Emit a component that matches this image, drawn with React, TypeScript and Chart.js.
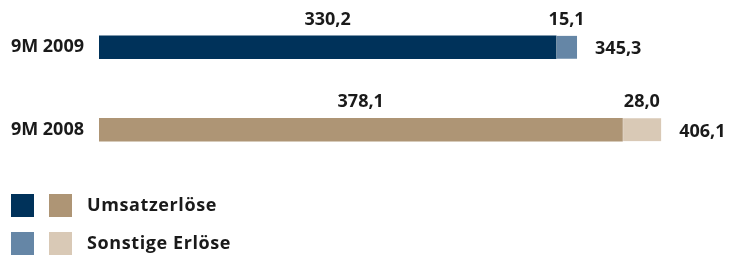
import React, { useEffect, useRef } from "react";
import { Chart, registerables } from "chart.js";

Chart.register(...registerables);

const categories = ["9M 2009", "9M 2008"];
const umsatzerloese = [330.2, 378.1];
const sonstigeErloese = [15.1, 28.0];
const seriesNames = ["Umsatzerlöse", "Sonstige Erlöse"];
const umsatzColors = ["#00325a", "#ae9575"];
const sonstigeColors = ["#6586a6", "#d9c9b6"];

const FONT = '"Open Sans", "DejaVu Sans", sans-serif';
const TEXT = "#1a1a1a";

const fmt = (v: number) => v.toFixed(1).replace(".", ",");

const labelsPlugin = {
  id: "labels",
  afterDatasetsDraw(chart: any) {
    const ctx = chart.ctx;
    ctx.save();
    ctx.font = `bold 18px ${FONT}`;
    ctx.fillStyle = TEXT;
    ctx.textAlign = "center";
    ctx.textBaseline = "middle";
    chart.data.datasets.forEach((ds: any, di: number) => {
      const meta = chart.getDatasetMeta(di);
      meta.data.forEach((el: any, i: number) => {
        const p = el.getProps(["x", "y", "base", "height"], true);
        const cx = (p.x + p.base) / 2;
        const top = p.y - p.height / 2;
        ctx.fillText(fmt(ds.data[i]), cx, top - 16);
      });
    });
    const last = chart.getDatasetMeta(chart.data.datasets.length - 1);
    ctx.textAlign = "left";
    last.data.forEach((el: any, i: number) => {
      const p = el.getProps(["x", "y"], true);
      const total = umsatzerloese[i] + sonstigeErloese[i];
      ctx.fillText(fmt(total), p.x + 18, p.y + 2);
    });
    ctx.restore();
  },
};

const legendPlugin = {
  id: "twinLegend",
  afterDraw(chart: any) {
    const ctx = chart.ctx;
    ctx.save();
    const rows = [
      { colors: [umsatzColors[0], umsatzColors[1]], label: seriesNames[0], y: 194 },
      { colors: [sonstigeColors[0], sonstigeColors[1]], label: seriesNames[1], y: 232 },
    ];
    rows.forEach((r) => {
      ctx.fillStyle = r.colors[0];
      ctx.fillRect(11, r.y, 23, 23);
      ctx.fillStyle = r.colors[1];
      ctx.fillRect(49, r.y, 23, 23);
      ctx.fillStyle = TEXT;
      ctx.font = `bold 18px ${FONT}`;
      (ctx as any).letterSpacing = "0.6px";
      ctx.textAlign = "left";
      ctx.textBaseline = "middle";
      ctx.fillText(r.label, 87, r.y + 12);
    });
    ctx.restore();
  },
};

export default function App() {
  const ref = useRef<HTMLCanvasElement>(null);
  useEffect(() => {
    if (!ref.current) return;
    const chart = new Chart(ref.current, {
      type: "bar",
      data: {
        labels: categories,
        datasets: [
          {
            label: seriesNames[0],
            data: umsatzerloese,
            backgroundColor: umsatzColors,
            barThickness: 23,
          },
          {
            label: seriesNames[1],
            data: sonstigeErloese,
            backgroundColor: sonstigeColors,
            borderColor: ["#ffffff", "rgba(0,0,0,0)"],
            borderWidth: { left: 1, right: 0, top: 0, bottom: 0 },
            borderSkipped: false,
            barThickness: 23,
          },
        ],
      },
      options: {
        indexAxis: "y",
        responsive: false,
        animation: false,
        layout: { padding: { left: 10, right: 17, top: 6, bottom: 86 } },
        plugins: {
          legend: { display: false },
          tooltip: { enabled: false },
        },
        scales: {
          x: {
            stacked: true,
            min: 0,
            max: 450,
            display: false,
          },
          y: {
            stacked: true,
            grid: { display: false, drawTicks: false },
            border: { display: false },
            ticks: {
              padding: 15,
              color: TEXT,
              font: { family: FONT, size: 18, weight: "bold" },
            },
            afterFit: (scale: any) => {
              scale.width = 89;
              scale.paddingTop = 0;
              scale.paddingBottom = 0;
            },
          },
        },
      },
      plugins: [labelsPlugin, legendPlugin],
    });
    return () => chart.destroy();
  }, []);
  return (
    <div style={{ position: "absolute", left: 0, top: 0, width: 739, height: 257, background: "#fff" }}>
      <canvas ref={ref} width={739} height={257} style={{ width: 739, height: 257, display: "block" }} />
    </div>
  );
}
